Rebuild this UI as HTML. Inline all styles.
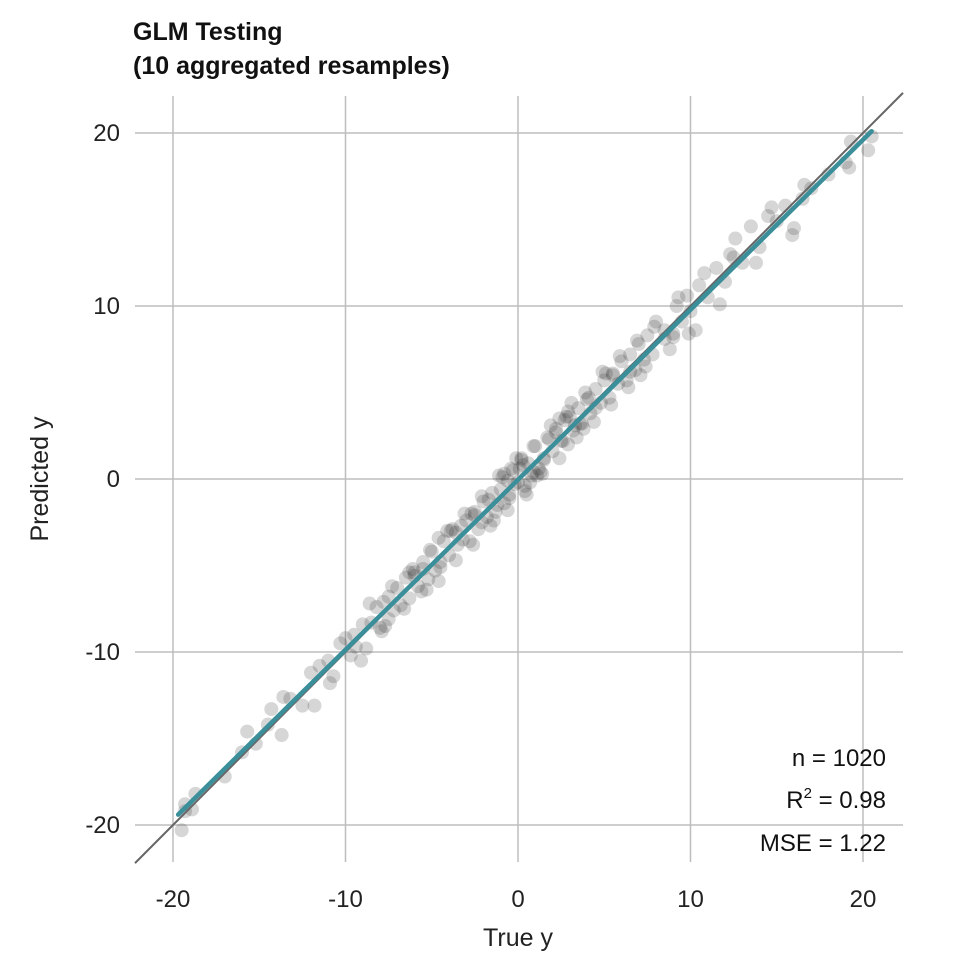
<!DOCTYPE html>
<html><head><meta charset="utf-8"><style>
html,body{margin:0;padding:0;background:#fff;}
svg text{font-family:"Liberation Sans",sans-serif;}
</style></head><body>
<svg id="chart" width="960" height="960" xmlns="http://www.w3.org/2000/svg">
<text x="133" y="40" font-size="25" font-weight="bold" fill="#111">GLM Testing</text>
<text x="133" y="74" font-size="25" font-weight="bold" fill="#111">(10 aggregated resamples)</text>
<g id="grid"></g>
<g id="points"></g>
<g id="lines"></g>
<text x="518" y="946" font-size="25" text-anchor="middle" fill="#222">True y</text>
<text transform="translate(48,479) rotate(-90)" font-size="25" text-anchor="middle" fill="#222">Predicted y</text>
<g font-size="24" fill="#111" text-anchor="end">
<text x="886" y="766">n = 1020</text>
<text x="886" y="808">R<tspan dy="-10" font-size="15">2</tspan><tspan dy="10"> = 0.98</tspan></text>
<text x="886" y="851">MSE = 1.22</text>
</g>
</svg>
<script>
const xTicks=[-20,-10,0,10,20];
const yTicks=[-20,-10,0,10,20];
const trueY=[-19.5,-19.3,-18.9,-18.7,-17,-16,-15.7,-15.2,-14.5,-14.3,-13.7,-13.2,-12.5,-12,-11.5,-11,-10.7,-10.3,-10,-9.7,-9.4,-9,-8.8,-8.5,-8.2,-8,-7.8,-7.5,-7.2,-7,-6.8,-6.5,-6.3,-6,-5.8,-5.5,-5.2,-5,-4.8,-4.5,-4.3,-4,-3.8,-3.5,-3.3,-3,-2.8,-2.5,-2.3,-2,-1.8,-1.5,-1.3,-1,-0.8,-0.5,-0.3,0,0.2,0.4,0.6,0.8,1,1.2,1.5,1.7,2,2.2,2.5,2.7,3,3.2,3.5,3.7,4,4.2,4.5,4.8,5,5.3,5.5,5.8,6,6.3,6.5,6.8,7,7.3,7.5,7.8,8,8.5,9,9.2,9.5,9.8,10,10.3,10.5,11,11.5,12,12.3,12.5,13,13.5,14,14.5,15,15.5,16,16.5,17,18,19,19.3,20.5,20.3,-0.2,0.3,-0.5,1.5,-1.2,2.8,3.3,-3.2,-4.5,-6,4.5,5.5,-2.5,0.7,-0.8,2.2,-5.5,6.5,-7.5,8.5,1.8,-1.7,3.6,-3.6,0.1,0.9,-0.6,2.6,-2.1,4.1,
-19.3,-13.6,-11.8,-10.9,-9.1,-8.6,-7.9,-7.3,-6.6,-6.1,-5.6,-5.1,-4.6,-4.1,-3.6,-3.1,-2.6,-2.1,-1.6,-1.1,-0.6,-0.1,0.4,0.9,1.4,1.9,2.4,2.9,3.4,3.9,4.4,4.9,5.4,5.9,6.4,6.9,7.4,7.9,8.8,9.3,9.9,10.8,11.7,12.6,13.8,14.7,15.9,16.6,19.2,0.5,-0.4,1.1,-1.4,2.9,3.1,-3.9,-5.3,2.4,-2.7,0.2,1.3,-0.9,3.8,-4.6,5.1,-6.3,7.1,-7.7,9.0,-9.5];
const predY=[-20.3,-19.2,-19.1,-18.2,-17.2,-15.8,-14.6,-15.3,-14.2,-13.3,-14.8,-12.7,-13.1,-11.2,-10.8,-10.5,-11.4,-9.5,-9.2,-10.2,-9.7,-8.4,-9.8,-8.3,-7.4,-8.6,-7.1,-6.8,-7.6,-6.3,-7.3,-5.7,-6.9,-5.4,-6.2,-4.8,-5.8,-4.2,-5.3,-4.8,-3.6,-4.4,-2.9,-3.8,-2.7,-2.4,-3.6,-1.9,-2.9,-1.3,-2.2,-0.8,-1.9,-0.6,0.3,-1.1,0.5,-0.2,1.2,-0.4,0.9,0.2,1.9,0.6,1.2,2.4,1.6,2.9,2.2,3.4,3.6,2.8,4.1,3.2,4.6,3.8,5.2,4.4,5.7,4.7,6.1,5.5,6.8,5.7,7.2,6.3,7.8,6.9,8.3,7.2,9.1,8.6,8.4,10,9.1,10.6,9.7,8.6,11.2,10.5,12.2,11.4,13,12.8,12.5,14.6,13.4,15.2,14.9,15.8,14.5,16.2,16.8,17.6,18.3,19.5,19.8,19,-0.3,0.8,-0.9,1.1,-1.5,3.6,3.1,-3.5,-5.1,-5.6,4.1,6,-2.1,-0.2,-1.4,2.7,-5.2,6.2,-8.1,8.1,2.3,-1.2,3.2,-3.1,0.6,0.4,-0.1,2.2,-2.5,4.7,
-18.8,-12.6,-13.1,-11.8,-10.5,-7.2,-8.8,-6.2,-7.5,-5.2,-6.5,-4.1,-5.9,-3.0,-4.7,-2.0,-3.8,-1.0,-2.7,0.2,-1.8,1.2,-0.7,1.9,0.3,3.1,1.2,3.9,2.4,5.0,3.3,6.2,4.3,7.1,5.3,8.0,6.5,8.8,7.5,10.5,8.4,11.9,10.1,13.9,12.5,15.7,14.1,17.0,18.0,-0.9,0.6,0.2,-2.4,2.0,4.4,-3.0,-6.4,3.5,-2.0,1.1,0.4,0.1,2.9,-3.4,6.1,-5.4,6.0,-8.5,8.2,-9.0];
const fitLine=[[-19.7,-19.4],[20.5,20.1]];
const ns="http://www.w3.org/2000/svg";
const X0=135,X1=903,Y0=96,Y1=862;
const sx=v=>518+v*17.25;
const sy=v=>479-v*17.3;
function mk(t,a,p){const e=document.createElementNS(ns,t);for(const k in a)e.setAttribute(k,a[k]);p.appendChild(e);return e;}
const grid=document.getElementById('grid');
xTicks.forEach(t=>{
 const l=mk('line',{x1:sx(t),x2:sx(t),y1:Y0,y2:Y1,stroke:'#bdbdbd','stroke-width':1.5},grid);
 
 
 const tx=mk('text',{x:sx(t),y:907,'font-size':24,'text-anchor':'middle',fill:'#222'},grid);
 tx.textContent=t;
 
 
});
yTicks.forEach(t=>{
 const l=mk('line',{x1:X0,x2:X1,y1:sy(t),y2:sy(t),stroke:'#bdbdbd','stroke-width':1.5},grid);
 
 
 const tx=mk('text',{x:120,y:sy(t)+8,'font-size':24,'text-anchor':'end',fill:'#222'},grid);
 tx.textContent=t;
 
 
});
const pts=document.getElementById('points');
trueY.forEach((v,i)=>{
 const c=mk('circle',{cx:sx(v),cy:sy(predY[i]),r:7,fill:'#333','fill-opacity':0.2},pts);
 
 
});
const lines=document.getElementById('lines');
const idl=mk('line',{x1:X0,y1:sy((X0-518)/17.25),x2:X1,y2:sy((X1-518)/17.25),stroke:'#666','stroke-width':2},lines);


const fl=mk('line',{x1:sx(fitLine[0][0]),y1:sy(fitLine[0][1]),x2:sx(fitLine[1][0]),y2:sy(fitLine[1][1]),stroke:'#3a8f9a','stroke-width':4.5,'stroke-linecap':'round'},lines);


</script>
</body></html>
